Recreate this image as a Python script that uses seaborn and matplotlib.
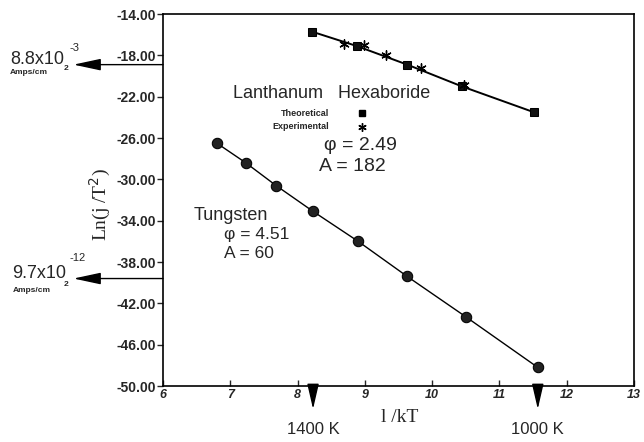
import matplotlib
matplotlib.use("Agg")
import matplotlib.pyplot as plt
import seaborn as sns
import pandas as pd
import numpy as np

# ---- data ----
tungsten_x = [6.80, 7.23, 7.68, 8.23, 8.90, 9.63, 10.50, 11.57]
tungsten_y = [-26.5, -28.4, -30.6, -33.1, -36.0, -39.4, -43.3, -48.2]
lab6_theo_x = [8.21, 8.88, 9.63, 10.44, 11.51]
lab6_theo_y = [-15.7, -17.1, -18.9, -21.0, -23.5]
lab6_exp_x = [8.69, 8.99, 9.31, 9.83, 10.47]
lab6_exp_y = [-16.9, -17.0, -18.0, -19.2, -20.9]
x_ticks = [6, 7, 8, 9, 10, 11, 12, 13]
y_ticks = [-14, -18, -22, -26, -30, -34, -38, -42, -46, -50]
temp_marks_x = [8.23, 11.57]
temp_labels = ["1400 K", "1000 K"]
current_marks_y = [-18.9, -39.6]

sns.set_theme(style="ticks")
plt.rcParams['font.family'] = ['Liberation Sans', 'DejaVu Sans']

fig = plt.figure(figsize=(6.44, 4.42), dpi=100)
ax = fig.add_axes([163/644, 1-386/442, (634-163)/644, (386-14)/442])

dfw = pd.DataFrame({"x": tungsten_x, "y": tungsten_y})
dft = pd.DataFrame({"x": lab6_theo_x, "y": lab6_theo_y})
dfe = pd.DataFrame({"x": lab6_exp_x, "y": lab6_exp_y})

sns.lineplot(data=dfw, x="x", y="y", ax=ax, color="black", lw=1.0,
             marker="o", markersize=7.5, markerfacecolor="#222222",
             markeredgecolor="black", sort=False)
sns.lineplot(data=dft, x="x", y="y", ax=ax, color="black", lw=1.4,
             marker="s", markersize=6, markerfacecolor="#111111",
             markeredgecolor="black", sort=False)
sns.scatterplot(data=dfe, x="x", y="y", ax=ax, color="black", marker=(6, 2, 0),
                s=45, linewidth=1.0, zorder=5)

ax.set_xlim(6, 13)
ax.set_ylim(-50, -14)
ax.set_xticks(x_ticks)
ax.set_xticklabels([str(v) for v in x_ticks], fontsize=9, fontweight="bold",
                   style="italic")
ax.set_yticks(y_ticks)
ax.set_yticklabels([f"{v:.2f}" for v in y_ticks], fontsize=10, fontweight="bold")
ax.tick_params(axis="y", direction="out", length=4, width=1, pad=1)
ax.tick_params(axis="x", direction="in", length=4, width=1, pad=2)
for s in ax.spines.values():
    s.set_linewidth(1.2)
    s.set_color("black")
ax.set_xlabel("")
ax.set_ylabel("")

# axis labels (serif)
fig.text(400/644, 1-418/442, "l /kT", ha="center", va="center",
         fontsize=14, family=["Liberation Serif", "DejaVu Serif"])
fig.text(100/644, 1-205/442, r"Ln(j /T$^{2}$)", ha="center", va="center",
         rotation=90, fontsize=14, family=["Liberation Serif", "DejaVu Serif"])

# annotations inside plot
ax.text(8.51, -21.7, "Lanthanum   Hexaboride", fontsize=13, ha="center",
        va="center")
ax.text(8.47, -23.6, "Theoretical", fontsize=6.5, fontweight="bold",
        ha="right", va="center")
ax.text(8.47, -24.9, "Experimental", fontsize=6.5, fontweight="bold",
        ha="right", va="center")
ax.plot([8.96], [-23.6], marker="s", ms=5, color="black", ls="none")
ax.plot([8.96], [-24.9], marker=(6, 2, 0), ms=6, color="black", ls="none", mew=1)
ax.text(8.93, -26.7, "φ = 2.49", fontsize=14, ha="center", va="center")
ax.text(8.32, -28.75, "A = 182", fontsize=14, ha="left", va="center")
ax.text(6.46, -33.5, "Tungsten", fontsize=13, ha="left", va="center")
ax.text(6.91, -35.3, "φ = 4.51", fontsize=12.5, ha="left", va="center")
ax.text(6.91, -37.2, "A = 60", fontsize=12.5, ha="left", va="center")

# left current arrows (outside axes)
for yv in current_marks_y:
    ax.annotate("", xy=(-0.19, yv), xycoords=("axes fraction", "data"),
                xytext=(0.0, yv), textcoords=("axes fraction", "data"),
                arrowprops=dict(arrowstyle="-|>,head_length=1.4,head_width=0.3",
                                color="black", lw=1.0, shrinkA=0, shrinkB=0),
                annotation_clip=False)

fig.text(10/644, 1-59/442, "8.8x10", fontsize=13, ha="left", va="center")
fig.text(69/644, 1-48/442, "-3", fontsize=8, ha="left", va="center")
fig.text(10/644, 1-73/442, "Amps/cm", fontsize=6, fontweight="bold",
         ha="left", va="center")
fig.text(64/644, 1-68/442, "2", fontsize=6, fontweight="bold", ha="left",
         va="center")

fig.text(12/644, 1-273/442, "9.7x10", fontsize=13, ha="left", va="center")
fig.text(70/644, 1-258/442, "-12", fontsize=8, ha="left", va="center")
fig.text(13/644, 1-290/442, "Amps/cm", fontsize=6, fontweight="bold",
         ha="left", va="center")
fig.text(64/644, 1-285/442, "2", fontsize=6, fontweight="bold", ha="left",
         va="center")

# down temperature arrows
for xv, lab in zip(temp_marks_x, temp_labels):
    ax.annotate("", xy=(xv, -0.062), xycoords=("data", "axes fraction"),
                xytext=(xv, 0.0), textcoords=("data", "axes fraction"),
                arrowprops=dict(arrowstyle="-|>,head_length=1.3,head_width=0.3",
                                color="black", lw=1.0, shrinkA=0, shrinkB=0),
                annotation_clip=False)
    ax.annotate(lab, xy=(xv, -0.118), xycoords=("data", "axes fraction"),
                ha="center", va="center", fontsize=12, annotation_clip=False)

fig.savefig("out.png", dpi=100)
